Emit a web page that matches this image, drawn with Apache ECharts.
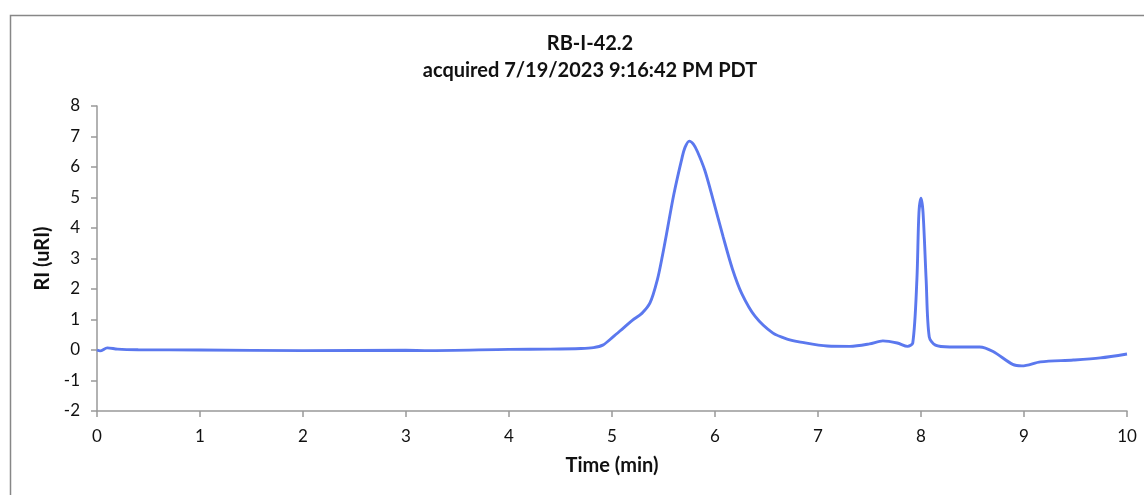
<!DOCTYPE html>
<html>
<head>
<meta charset="utf-8">
<script src="https://cdn.jsdelivr.net/npm/echarts@6/dist/echarts.min.js"></script>
<style>
html,body{margin:0;padding:0;background:#fff;}
#chart{width:1144px;height:495px;}
</style>
</head>
<body>
<div id="chart"></div>
<script>
const titleLines = ["RB-I-42.2", "acquired 7/19/2023 9:16:42 PM PDT"];
const xAxisName = "Time (min)";
const yAxisName = "RI (uRI)";
const times = [0, 0.03, 0.1, 0.2, 0.4, 1, 2, 3, 3.2, 4, 4.4, 4.7, 4.82, 4.91, 5.01, 5.11, 5.2, 5.29, 5.37, 5.44, 5.49, 5.54, 5.6, 5.68, 5.71, 5.75, 5.79, 5.83, 5.9, 5.98, 6.08, 6.17, 6.26, 6.39, 6.56, 6.7, 6.83, 7.09, 7.31, 7.5, 7.63, 7.77, 7.87, 7.92, 7.96, 7.98, 8.0, 8.02, 8.05, 8.08, 8.14, 8.28, 8.57, 8.7, 8.89, 8.98, 9.16, 9.48, 9.74, 10];
const values = [0, -0.03, 0.07, 0.03, 0.01, 0, -0.02, -0.01, -0.02, 0.02, 0.03, 0.05, 0.08, 0.16, 0.43, 0.72, 0.98, 1.2, 1.55, 2.3, 3.1, 4.0, 5.1, 6.3, 6.65, 6.85, 6.75, 6.5, 5.9, 4.95, 3.7, 2.65, 1.85, 1.1, 0.56, 0.36, 0.26, 0.13, 0.12, 0.2, 0.3, 0.23, 0.12, 0.23, 2.3, 4.5, 4.98, 4.5, 2.3, 0.43, 0.16, 0.1, 0.1, -0.05, -0.47, -0.52, -0.39, -0.33, -0.26, -0.13];
const yMin = -2, yMax = 8, yStep = 1;
const xMin = 0, xMax = 10, xStep = 1;

const seriesData = times.map((t, i) => [t, values[i]]);
const font = "Lato, 'Open Sans', 'Liberation Sans', sans-serif";
const chart = echarts.init(document.getElementById('chart'));
chart.setOption({
  backgroundColor: '#fff',
  animation: false,
  graphic: [{
    type: 'rect', left: 8, top: 13,
    shape: { width: 1200, height: 600 },
    style: { fill: 'none', stroke: '#878787', lineWidth: 1.5 }
  }],
  title: {
    text: titleLines.join('\n'),
    left: 585, top: 25, textAlign: 'center',
    textStyle: { fontFamily: font, fontWeight: 'bold', fontSize: 20, lineHeight: 27, color: '#111' }
  },
  grid: { left: 97, right: 17, top: 106, bottom: 84, containLabel: false },
  xAxis: {
    type: 'value', min: xMin, max: xMax, interval: xStep,
    name: xAxisName, nameLocation: 'middle', nameGap: 45,
    nameTextStyle: { fontFamily: font, fontWeight: 'bold', fontSize: 20, color: '#111' },
    axisLine: { onZero: false, lineStyle: { color: '#999', width: 1.5 } },
    axisTick: { show: true, length: 6, lineStyle: { color: '#999', width: 1.5 } },
    axisLabel: { fontFamily: font, fontSize: 17, color: '#111', margin: 17 },
    splitLine: { show: false }
  },
  yAxis: {
    type: 'value', min: yMin, max: yMax, interval: yStep,
    name: yAxisName, nameLocation: 'middle', nameGap: 43, nameRotate: 90,
    nameTextStyle: { fontFamily: font, fontWeight: 'bold', fontSize: 20, color: '#111' },
    axisLine: { show: true, lineStyle: { color: '#999', width: 1.5 } },
    axisTick: { show: true, length: 6, lineStyle: { color: '#999', width: 1.5 } },
    axisLabel: { fontFamily: font, fontSize: 17, color: '#111', margin: 17 },
    splitLine: { show: false }
  },
  series: [{
    type: 'line', data: seriesData, showSymbol: false, symbol: 'none',
    smooth: 0.3,
    lineStyle: { color: '#5b78ee', width: 2.9 }
  }]
});
</script>
</body>
</html>
